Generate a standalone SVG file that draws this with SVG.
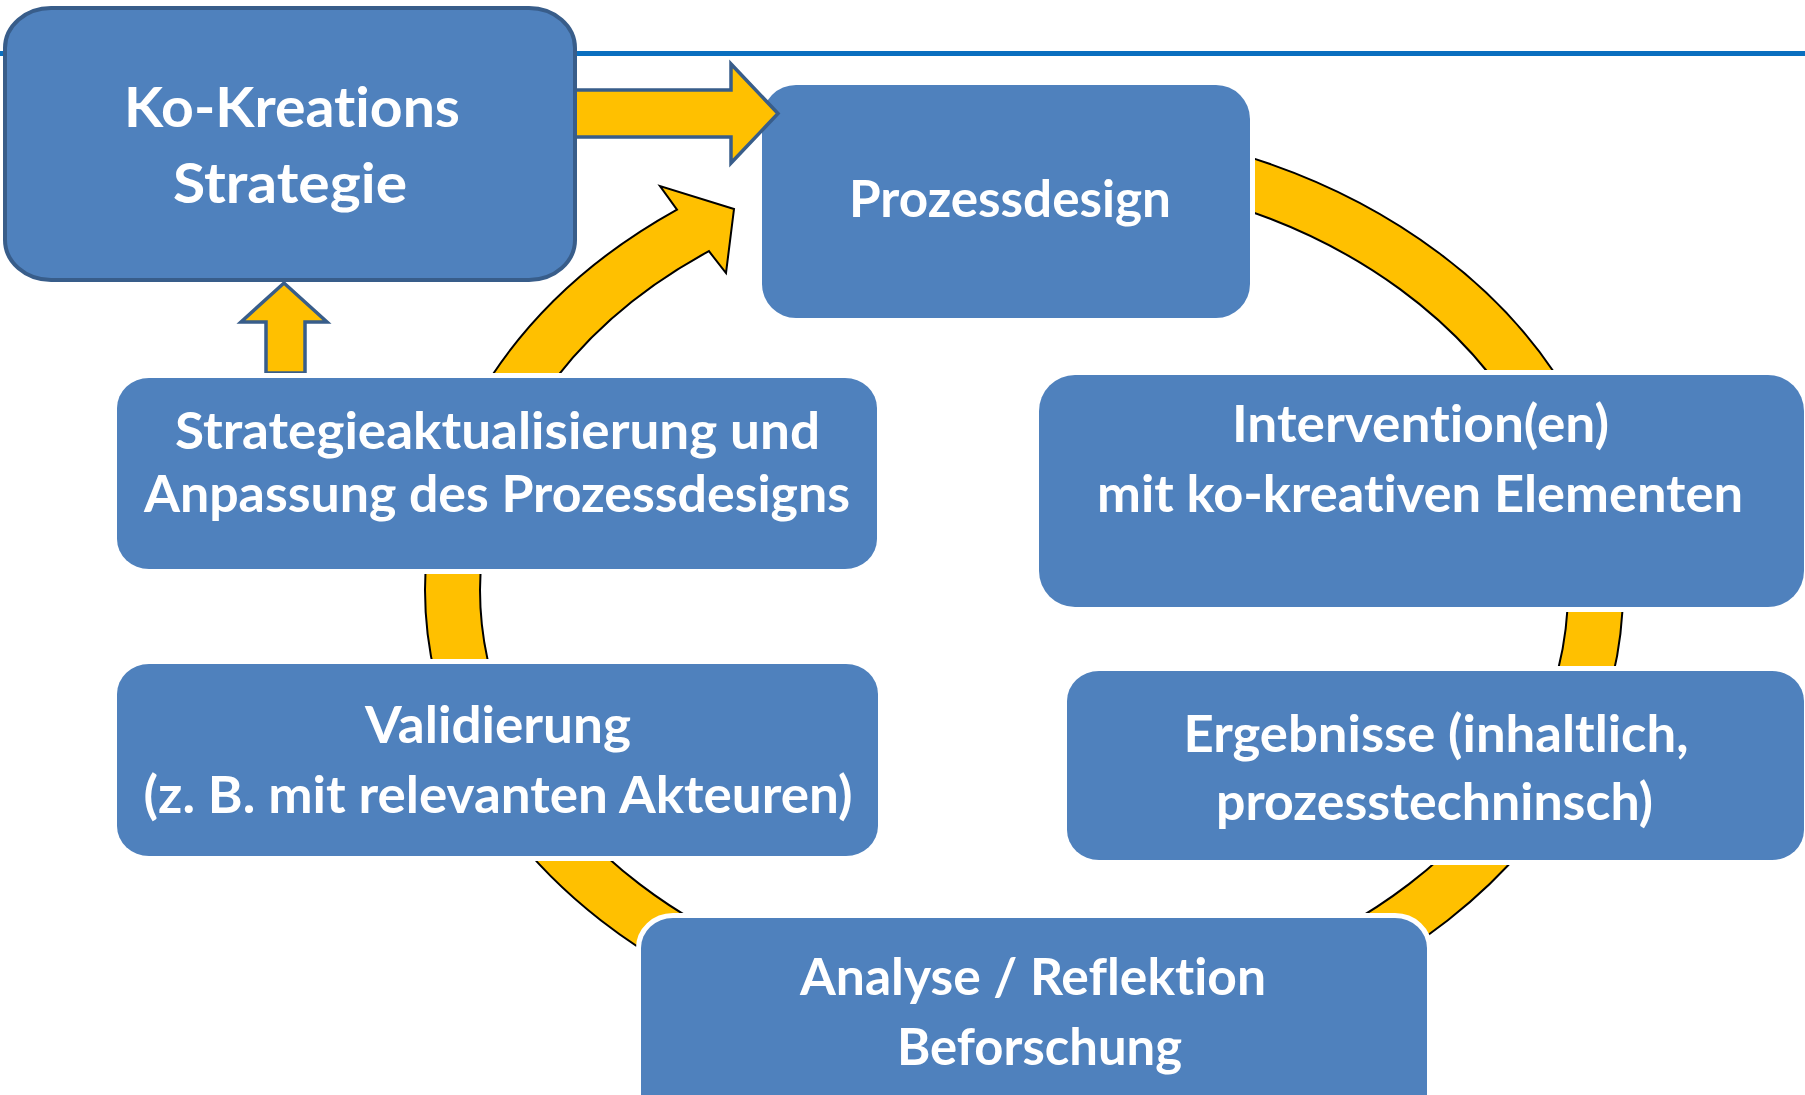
<svg xmlns="http://www.w3.org/2000/svg" width="1805" height="1095" viewBox="0 0 1805 1095">
<style>
.box{fill:#4F81BD;stroke:#FFFFFF;stroke-width:10;paint-order:stroke}
.main{fill:#4F81BD;stroke:#385D8A;stroke-width:4}
.ring{fill:#FFC000;stroke:#000000;stroke-width:2;stroke-linejoin:miter}
.block{fill:#FFC000;stroke:#385D8A;stroke-width:3.5;stroke-linejoin:miter}
.t{font-family:Lato,"Open Sans","Liberation Sans",sans-serif;font-weight:bold;fill:#FFFFFF;text-anchor:middle;font-size:52px;font-variant-ligatures:none;font-feature-settings:"liga" 0,"clig" 0,"dlig" 0}
.tb{font-size:56px}
</style>
<rect width="1805" height="1095" fill="#FFFFFF"/>
<line x1="0" y1="53.5" x2="1805" y2="53.5" stroke="#0A6FBF" stroke-width="5"/>
<g id="connectors">
<path class="ring" d="M677,209.57 A600,467 0 0 0 425,590 A600,467 0 0 0 1025,1057 A598,467 0 0 0 1623,590 A598,467 0 0 0 1000,123.41 L1000,174.44 A543,416 0 0 1 1568,590 A543,416 0 0 1 1025,1006 A545,416 0 0 1 480,590 A545,416 0 0 1 708.9,251.12 L726,273 L734,209 L660,186 Z"/>
<polygon class="block" points="266,373 266,322 241,322 284,283 327,322 305,322 305,373"/>
</g>
<g id="prozessdesign">
<rect class="box" x="762" y="85" width="488" height="233" rx="34" ry="34"/>
<text class="t" x="1010" y="217" textLength="322" lengthAdjust="spacingAndGlyphs">Prozessdesign</text>
</g>
<g id="strategieaktualisierung">
<rect class="box" x="117" y="378" width="760" height="191" rx="32" ry="30"/>
<text class="t" x="497.5" y="449" textLength="645" lengthAdjust="spacingAndGlyphs">Strategieaktualisierung und</text>
<text class="t" x="497" y="512" textLength="706" lengthAdjust="spacingAndGlyphs">Anpassung des Prozessdesigns</text>
</g>
<g id="intervention">
<rect class="box" x="1039" y="375" width="765" height="232" rx="36" ry="36"/>
<text class="t" x="1420.5" y="442" textLength="377" lengthAdjust="spacingAndGlyphs">Intervention(en)</text>
<text class="t" x="1420" y="512" textLength="646" lengthAdjust="spacingAndGlyphs">mit ko-kreativen Elementen</text>
</g>
<g id="validierung">
<rect class="box" x="117" y="664" width="761" height="192" rx="32" ry="30"/>
<text class="t" x="498" y="743" textLength="266" lengthAdjust="spacingAndGlyphs">Validierung</text>
<text class="t" x="498" y="813" textLength="709" lengthAdjust="spacingAndGlyphs">(z. B. mit relevanten Akteuren)</text>
</g>
<g id="ergebnisse">
<rect class="box" x="1067" y="671" width="737" height="189" rx="32" ry="30"/>
<text class="t" x="1436" y="752" textLength="505" lengthAdjust="spacingAndGlyphs">Ergebnisse (inhaltlich,</text>
<text class="t" x="1434.5" y="820" textLength="437" lengthAdjust="spacingAndGlyphs">prozesstechninsch)</text>
</g>
<g id="analyse">
<rect class="box" x="641" y="918" width="786" height="210" rx="32" ry="30"/>
<text class="t" x="1033" y="995" textLength="466" lengthAdjust="spacingAndGlyphs">Analyse / Reflektion</text>
<text class="t" x="1039.5" y="1065" textLength="285" lengthAdjust="spacingAndGlyphs">Beforschung</text>
</g>
<g id="arrow-strategy">
<polygon class="block" points="560,90 731,90 731,64 778,113.5 731,163 731,137 560,137"/>
</g>
<g id="ko-kreations-strategie">
<rect class="main" x="5" y="8" width="570" height="272" rx="46" ry="40"/>
<text class="t tb" x="292" y="127" textLength="336" lengthAdjust="spacingAndGlyphs">Ko-Kreations</text>
<text class="t tb" x="290" y="203" textLength="234" lengthAdjust="spacingAndGlyphs">Strategie</text>
</g>
</svg>
